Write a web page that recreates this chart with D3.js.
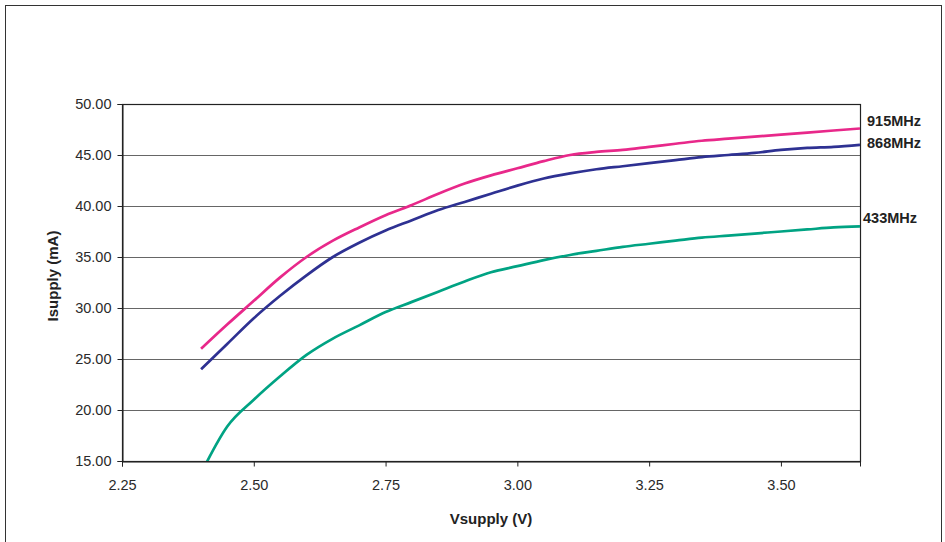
<!DOCTYPE html>
<html>
<head>
<meta charset="utf-8">
<script src="https://cdn.jsdelivr.net/npm/d3@7"></script>
<style>
body{margin:0;background:#fff;}
svg{display:block;font-family:"Liberation Sans",Arial,sans-serif;}
</style>
</head>
<body>
<script>
var WIDTH = 945, HEIGHT = 542;
var MARGIN = {top:104, right:85, bottom:81, left:122};
var INNER_WIDTH = WIDTH - MARGIN.left - MARGIN.right;
var INNER_HEIGHT = HEIGHT - MARGIN.top - MARGIN.bottom;

// supply voltage (V)
var vsupply = [2.40,2.45,2.50,2.55,2.60,2.65,2.70,2.75,2.80,2.85,2.90,2.95,3.00,
	3.05,3.10,3.15,3.20,3.25,3.30,3.35,3.40,3.45,3.50,3.55,3.60,3.65];
// supply current (mA)
var i915 = [26.0,28.4,30.7,33.0,35.0,36.6,37.9,39.1,40.1,41.2,42.2,43.0,43.7,
	44.4,45.0,45.3,45.5,45.8,46.1,46.4,46.6,46.8,47.0,47.2,47.4,47.6];
var i868 = [24.0,26.5,29.0,31.2,33.2,35.0,36.4,37.6,38.6,39.6,40.4,41.2,42.0,
	42.7,43.2,43.6,43.9,44.2,44.5,44.8,45.0,45.2,45.5,45.7,45.8,46.0];
var i433 = [13.8,18.4,21.0,23.3,25.4,27.0,28.3,29.6,30.6,31.6,32.6,33.5,34.1,
	34.7,35.2,35.6,36.0,36.3,36.6,36.9,37.1,37.3,37.5,37.7,37.9,38.0];

var seriesNames = ["915MHz","868MHz","433MHz"];
var seriesColors = ["#e8288a","#2e3192","#00a383"];
var xTicks = [2.25,2.50,2.75,3.00,3.25,3.50];
var yTicks = [15,20,25,30,35,40,45,50];

var svg = d3.select("body").append("svg")
	.attr("width",WIDTH)
	.attr("height",HEIGHT);

// outer chart border
svg.append("rect")
	.attr("x",5.5).attr("y",5.5)
	.attr("width",936).attr("height",560)
	.attr("fill","none").attr("stroke","#333");

var xScale = d3.scaleLinear().domain([2.25,3.65]).range([0,INNER_WIDTH]);
var yScale = d3.scaleLinear().domain([15,50]).range([INNER_HEIGHT,0]);

var g = svg.append("g")
	.attr("transform","translate("+MARGIN.left+","+MARGIN.top+")");

// gridlines
g.selectAll(".grid").data(yTicks.slice(1,-1))
	.enter().append("line")
	.attr("x1",0).attr("x2",INNER_WIDTH)
	.attr("y1",function(d){return Math.round(yScale(d))+0.5})
	.attr("y2",function(d){return Math.round(yScale(d))+0.5})
	.attr("stroke","#666").attr("stroke-width",1);

// frame
g.append("rect")
	.attr("x",0.5).attr("y",0.5)
	.attr("width",INNER_WIDTH).attr("height",INNER_HEIGHT)
	.attr("fill","none").attr("stroke","#222").attr("stroke-width",1.2);

var xAxis = g.append("g")
	.attr("transform","translate(0,"+(INNER_HEIGHT+0.5)+")")
	.call(d3.axisBottom(xScale).tickValues(xTicks).tickFormat(d3.format(".2f")).tickSize(5).tickPadding(13));
var yAxis = g.append("g")
	.attr("transform","translate(0.5,0)")
	.call(d3.axisLeft(yScale).tickValues(yTicks).tickFormat(d3.format(".2f")).tickSize(5).tickPadding(6));

[xAxis,yAxis].forEach(function(a){
	a.select(".domain").attr("stroke","#222");
	a.selectAll(".tick line").attr("stroke","#222");
	a.selectAll(".tick text").attr("fill","#2a2a2a")
		.style("font-size","14.5px").style("font-family","'Liberation Sans',Arial,sans-serif");
});

// clip to plot
svg.append("defs").append("clipPath").attr("id","plot")
	.append("rect").attr("width",INNER_WIDTH).attr("height",INNER_HEIGHT);

var series = [i915,i868,i433];
var line = d3.line()
	.x(function(d,i){return xScale(vsupply[i])})
	.y(function(d){return yScale(d)})
	.curve(d3.curveMonotoneX);

g.append("g").attr("clip-path","url(#plot)")
	.selectAll("path").data(series)
	.enter().append("path")
	.attr("d",line)
	.attr("fill","none")
	.attr("stroke",function(d,i){return seriesColors[i]})
	.attr("stroke-width",2.7);

// end labels
var labelDy = [-8,-2,-8];
g.selectAll(".lbl").data(series)
	.enter().append("text")
	.attr("x",function(d,i){return xScale(vsupply[vsupply.length-1]) + (i==2 ? 3 : 7)})
	.attr("y",function(d,i){return yScale(d[d.length-1]) + labelDy[i]})
	.attr("dy","0.35em")
	.attr("fill","#222")
	.style("font-size","14.5px").style("font-weight","bold")
	.text(function(d,i){return seriesNames[i]});

// axis titles
svg.append("text")
	.attr("x",491).attr("y",524)
	.attr("text-anchor","middle")
	.attr("fill","#222")
	.style("font-size","15px").style("font-weight","bold")
	.text("Vsupply (V)");
svg.append("text")
	.attr("transform","translate(58,276) rotate(-90)")
	.attr("text-anchor","middle")
	.attr("fill","#222")
	.style("font-size","15px").style("font-weight","bold")
	.text("Isupply (mA)");
</script>
</body>
</html>
